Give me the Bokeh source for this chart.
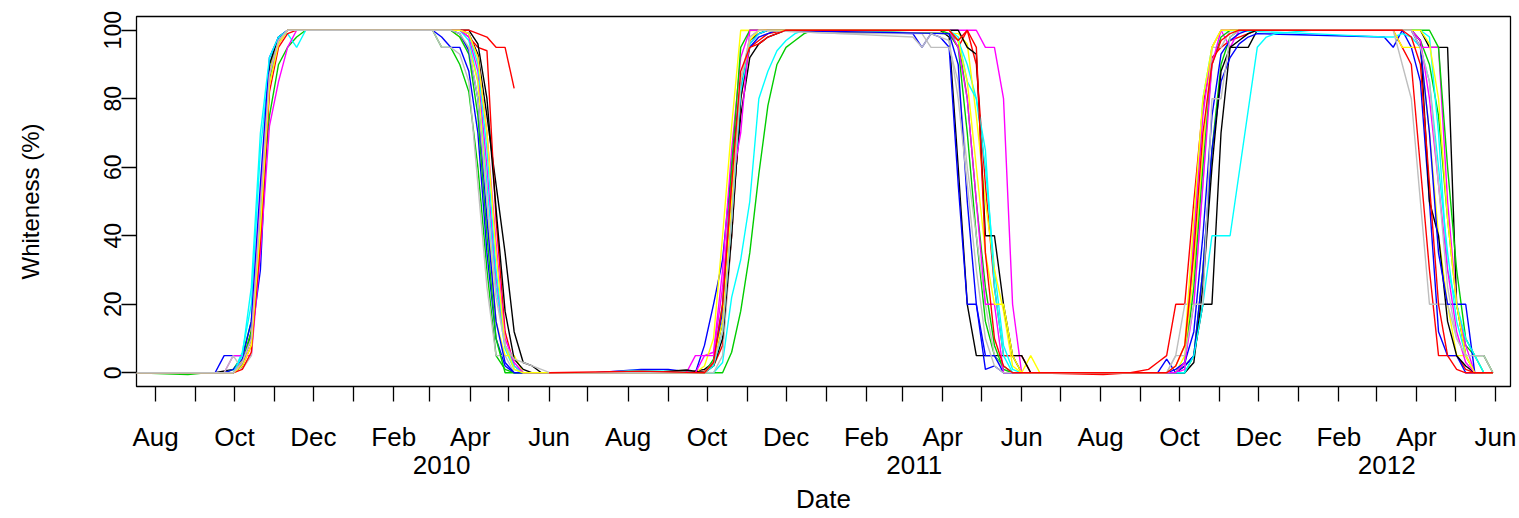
import pandas as pd
from bokeh.plotting import figure
from bokeh.models import Range1d, FixedTicker, LinearAxis
from bokeh.embed import file_html
from bokeh.resources import INLINE

# ---------------- data (date, whiteness %) ----------------
s01_black = [("2009-07-17", 0), ("2009-09-16", 0), ("2009-09-30", 1), ("2009-10-07", 3), ("2009-10-14", 10),
             ("2009-10-21", 45), ("2009-10-28", 88), ("2009-11-04", 97), ("2009-11-11", 100), ("2010-01-13", 100),
             ("2010-03-24", 100), ("2010-03-31", 99), ("2010-04-07", 93), ("2010-04-14", 75), ("2010-04-21", 55),
             ("2010-04-28", 35), ("2010-05-05", 12), ("2010-05-12", 3), ("2010-05-19", 2), ("2010-05-26", 0),
             ("2010-08-11", 0), ("2010-09-15", 0), ("2010-09-22", 0.5), ("2010-09-29", 1), ("2010-10-06", 3),
             ("2010-10-13", 15), ("2010-10-20", 45), ("2010-10-27", 75), ("2010-11-03", 92), ("2010-11-10", 96),
             ("2010-11-17", 98), ("2010-11-24", 99), ("2010-12-01", 100), ("2011-03-30", 100), ("2011-04-06", 98),
             ("2011-04-13", 60), ("2011-04-20", 20), ("2011-04-27", 5), ("2011-05-04", 5), ("2011-05-11", 5),
             ("2011-05-18", 5), ("2011-05-25", 5), ("2011-06-01", 0), ("2011-09-28", 0), ("2011-10-05", 2),
             ("2011-10-12", 5), ("2011-10-19", 20), ("2011-10-26", 20), ("2011-11-02", 70), ("2011-11-09", 95),
             ("2011-11-16", 95), ("2011-11-23", 95), ("2011-11-30", 100), ("2012-04-04", 100), ("2012-04-11", 95),
             ("2012-04-18", 95), ("2012-04-25", 95), ("2012-05-02", 20), ("2012-05-09", 5), ("2012-05-16", 0),
             ("2012-05-30", 0)]

s02_red = [("2009-07-17", 0), ("2009-09-30", 0), ("2009-10-07", 2), ("2009-10-14", 8), ("2009-10-21", 40),
           ("2009-10-28", 85), ("2009-11-04", 96), ("2009-11-11", 100), ("2010-03-24", 100), ("2010-03-31", 98),
           ("2010-04-07", 95), ("2010-04-14", 94), ("2010-04-21", 45), ("2010-04-28", 12), ("2010-05-05", 2),
           ("2010-05-12", 0), ("2010-08-11", 0), ("2010-09-22", 0), ("2010-09-29", 0.5), ("2010-10-06", 2),
           ("2010-10-13", 8), ("2010-10-20", 40), ("2010-10-27", 80), ("2010-11-03", 95), ("2010-11-10", 97),
           ("2010-11-17", 99), ("2010-12-01", 100), ("2011-04-06", 99), ("2011-04-13", 95), ("2011-04-20", 100),
           ("2011-04-27", 90), ("2011-05-04", 55), ("2011-05-11", 25), ("2011-05-18", 5), ("2011-05-25", 5),
           ("2011-06-01", 5), ("2011-06-08", 0), ("2011-08-03", -0.5), ("2011-08-24", 0), ("2011-09-07", 1),
           ("2011-09-14", 3), ("2011-09-21", 5), ("2011-09-28", 20), ("2011-10-05", 20), ("2011-10-12", 50),
           ("2011-10-19", 78), ("2011-10-26", 92), ("2011-11-02", 95), ("2011-11-09", 97), ("2011-11-16", 98),
           ("2011-11-23", 99), ("2011-11-30", 100), ("2012-03-14", 100), ("2012-03-21", 95), ("2012-03-28", 90),
           ("2012-04-04", 60), ("2012-04-11", 30), ("2012-04-18", 5), ("2012-04-25", 5), ("2012-05-02", 5),
           ("2012-05-09", 1), ("2012-05-16", 0)]

s03_green = [("2009-07-17", 0), ("2009-08-26", -0.5), ("2009-09-09", 0), ("2009-09-23", 0), ("2009-09-30", 1),
             ("2009-10-07", 5), ("2009-10-14", 15), ("2009-10-21", 45), ("2009-10-28", 75), ("2009-11-04", 90),
             ("2009-11-11", 95), ("2009-11-18", 98), ("2009-11-25", 100), ("2010-03-03", 100), ("2010-03-10", 95),
             ("2010-03-17", 95), ("2010-03-24", 90), ("2010-03-31", 82), ("2010-04-07", 60), ("2010-04-14", 30),
             ("2010-04-21", 5), ("2010-04-28", 1), ("2010-05-05", 0), ("2010-10-13", 0), ("2010-10-20", 6),
             ("2010-10-27", 18), ("2010-11-03", 35), ("2010-11-10", 58), ("2010-11-17", 78), ("2010-11-24", 90),
             ("2010-12-01", 95), ("2010-12-08", 97), ("2010-12-15", 99), ("2010-12-22", 100), ("2011-04-06", 99),
             ("2011-04-13", 95), ("2011-04-20", 70), ("2011-04-27", 40), ("2011-05-04", 15), ("2011-05-11", 5),
             ("2011-05-18", 2), ("2011-05-25", 0), ("2011-10-05", 0), ("2011-10-12", 5), ("2011-10-19", 30),
             ("2011-10-26", 65), ("2011-11-02", 90), ("2011-11-09", 98), ("2011-11-16", 100), ("2012-03-28", 100),
             ("2012-04-04", 97), ("2012-04-11", 90), ("2012-04-18", 75), ("2012-04-25", 45), ("2012-05-02", 20),
             ("2012-05-09", 8), ("2012-05-16", 5), ("2012-05-23", 0), ("2012-05-30", 0)]

s04_blue = [("2009-07-17", 0), ("2009-09-16", 0), ("2009-09-23", 5), ("2009-09-30", 5), ("2009-10-07", 5),
            ("2009-10-14", 10), ("2009-10-21", 30), ("2009-10-28", 85), ("2009-11-04", 97), ("2009-11-11", 100),
            ("2010-03-03", 100), ("2010-03-10", 98), ("2010-03-17", 95), ("2010-03-24", 95), ("2010-03-31", 88),
            ("2010-04-07", 70), ("2010-04-14", 35), ("2010-04-21", 10), ("2010-04-28", 2), ("2010-05-05", 0),
            ("2010-07-07", 0), ("2010-08-11", 1), ("2010-09-01", 1), ("2010-09-22", 0), ("2010-09-29", 8),
            ("2010-10-06", 20), ("2010-10-13", 33), ("2010-10-20", 60), ("2010-10-27", 85), ("2010-11-03", 95),
            ("2010-11-10", 98), ("2010-11-17", 99), ("2010-11-24", 100), ("2011-03-09", 99), ("2011-03-16", 95),
            ("2011-03-23", 99), ("2011-03-30", 98), ("2011-04-06", 95), ("2011-04-13", 55), ("2011-04-20", 20),
            ("2011-04-27", 20), ("2011-05-04", 1), ("2011-05-11", 2), ("2011-05-18", 0), ("2011-09-14", 0),
            ("2011-09-21", 4), ("2011-09-28", 0), ("2011-10-05", 2), ("2011-10-12", 5), ("2011-10-19", 30),
            ("2011-10-26", 65), ("2011-11-02", 85), ("2011-11-09", 92), ("2011-11-16", 96), ("2011-11-23", 98),
            ("2011-11-30", 99), ("2012-03-07", 98), ("2012-03-14", 95), ("2012-03-21", 100), ("2012-03-28", 95),
            ("2012-04-04", 85), ("2012-04-11", 50), ("2012-04-18", 12), ("2012-04-25", 5), ("2012-05-02", 5),
            ("2012-05-09", 0), ("2012-05-16", 0)]

s05_cyan = [("2009-07-17", 0), ("2009-09-30", 0), ("2009-10-07", 6), ("2009-10-14", 20), ("2009-10-21", 65),
            ("2009-10-28", 90), ("2009-11-04", 98), ("2009-11-11", 99), ("2009-11-18", 95), ("2009-11-25", 100),
            ("2010-03-24", 100), ("2010-03-31", 97), ("2010-04-07", 85), ("2010-04-14", 55), ("2010-04-21", 25),
            ("2010-04-28", 7), ("2010-05-05", 1), ("2010-05-12", 0), ("2010-07-14", 0), ("2010-08-04", 0.7),
            ("2010-09-01", 0.5), ("2010-10-06", 0), ("2010-10-13", 3), ("2010-10-20", 22), ("2010-10-27", 33),
            ("2010-11-03", 50), ("2010-11-10", 80), ("2010-11-17", 88), ("2010-11-24", 94), ("2010-12-01", 97),
            ("2010-12-08", 99), ("2010-12-15", 100), ("2011-04-06", 99), ("2011-04-13", 97), ("2011-04-20", 90),
            ("2011-04-27", 80), ("2011-05-04", 60), ("2011-05-11", 30), ("2011-05-18", 8), ("2011-05-25", 1),
            ("2011-06-01", 0), ("2011-10-05", 0), ("2011-10-12", 40), ("2011-10-19", 80), ("2011-10-26", 95),
            ("2011-11-02", 100), ("2012-01-11", 99), ("2012-02-08", 98.5), ("2012-03-07", 98), ("2012-03-14", 98),
            ("2012-03-21", 99), ("2012-03-28", 98), ("2012-04-04", 95), ("2012-04-11", 85), ("2012-04-18", 60),
            ("2012-04-25", 35), ("2012-05-02", 15), ("2012-05-09", 5), ("2012-05-16", 0), ("2012-05-30", 0)]

s06_magenta = [("2009-07-17", 0), ("2009-09-23", 0), ("2009-09-30", 5), ("2009-10-07", 5), ("2009-10-14", 5),
               ("2009-10-21", 35), ("2009-10-28", 72), ("2009-11-04", 85), ("2009-11-11", 95), ("2009-11-18", 100),
               ("2010-03-24", 100), ("2010-03-31", 98), ("2010-04-07", 88), ("2010-04-14", 60), ("2010-04-21", 28),
               ("2010-04-28", 8), ("2010-05-05", 2), ("2010-05-12", 0), ("2010-09-15", 0), ("2010-09-22", 5),
               ("2010-09-29", 5), ("2010-10-06", 6), ("2010-10-13", 30), ("2010-10-20", 65), ("2010-10-27", 92),
               ("2010-11-03", 100), ("2011-04-27", 100), ("2011-05-04", 95), ("2011-05-11", 95), ("2011-05-18", 80),
               ("2011-05-25", 20), ("2011-06-01", 0), ("2011-09-28", 0), ("2011-10-05", 1), ("2011-10-12", 40),
               ("2011-10-19", 75), ("2011-10-26", 95), ("2011-11-02", 100), ("2011-11-09", 95), ("2011-11-16", 100),
               ("2012-03-28", 100), ("2012-04-04", 95), ("2012-04-11", 95), ("2012-04-18", 95), ("2012-04-25", 50),
               ("2012-05-02", 20), ("2012-05-09", 8), ("2012-05-16", 0), ("2012-05-30", 0)]

s07_yellow = [("2009-07-17", 0), ("2009-09-30", 0), ("2009-10-07", 4), ("2009-10-14", 12), ("2009-10-21", 50),
              ("2009-10-28", 88), ("2009-11-04", 97), ("2009-11-11", 100), ("2010-03-17", 100), ("2010-03-24", 98),
              ("2010-03-31", 95), ("2010-04-07", 85), ("2010-04-14", 50), ("2010-04-21", 15), ("2010-04-28", 5),
              ("2010-05-05", 5), ("2010-05-12", 0), ("2010-09-22", 0), ("2010-09-29", 2), ("2010-10-06", 10),
              ("2010-10-13", 40), ("2010-10-20", 72), ("2010-10-27", 100), ("2011-04-13", 99), ("2011-04-20", 96),
              ("2011-04-27", 75), ("2011-05-04", 50), ("2011-05-11", 30), ("2011-05-18", 18), ("2011-05-25", 2),
              ("2011-06-01", 0), ("2011-06-08", 5), ("2011-06-15", 0), ("2011-09-28", 0), ("2011-10-05", 5),
              ("2011-10-12", 30), ("2011-10-19", 65), ("2011-10-26", 95), ("2011-11-02", 100), ("2012-03-14", 100),
              ("2012-03-21", 95), ("2012-03-28", 95), ("2012-04-04", 95), ("2012-04-11", 70), ("2012-04-18", 40),
              ("2012-04-25", 20), ("2012-05-02", 5), ("2012-05-09", 5), ("2012-05-16", 0), ("2012-05-30", 0)]

s08_gray = [("2009-07-17", 0), ("2009-09-23", 0), ("2009-09-30", 5), ("2009-10-07", 1), ("2009-10-14", 5),
            ("2009-10-21", 45), ("2009-10-28", 85), ("2009-11-04", 96), ("2009-11-11", 100), ("2010-03-03", 100),
            ("2010-03-10", 95), ("2010-03-17", 95), ("2010-03-24", 93), ("2010-03-31", 85), ("2010-04-07", 55),
            ("2010-04-14", 25), ("2010-04-21", 5), ("2010-04-28", 5), ("2010-05-05", 0), ("2010-10-06", 0),
            ("2010-10-13", 5), ("2010-10-20", 40), ("2010-10-27", 85), ("2010-11-03", 98), ("2010-11-10", 100),
            ("2011-01-12", 99), ("2011-03-16", 99), ("2011-03-23", 95), ("2011-03-30", 95), ("2011-04-06", 95),
            ("2011-04-13", 85), ("2011-04-20", 60), ("2011-04-27", 40), ("2011-05-04", 20), ("2011-05-11", 5),
            ("2011-05-18", 1), ("2011-05-25", 0), ("2011-09-21", 0), ("2011-09-28", 5), ("2011-10-05", 20),
            ("2011-10-12", 20), ("2011-10-19", 55), ("2011-10-26", 95), ("2011-11-02", 95), ("2011-11-09", 100),
            ("2012-03-14", 100), ("2012-03-21", 90), ("2012-03-28", 80), ("2012-04-04", 50), ("2012-04-11", 20),
            ("2012-04-18", 20), ("2012-04-25", 20), ("2012-05-02", 10), ("2012-05-09", 5), ("2012-05-16", 5),
            ("2012-05-23", 5), ("2012-05-30", 0)]

s09_black = [("2009-07-17", 0), ("2009-09-30", 0), ("2009-10-07", 2), ("2009-10-14", 12), ("2009-10-21", 50),
             ("2009-10-28", 90), ("2009-11-04", 98), ("2009-11-11", 100), ("2010-03-31", 100), ("2010-04-07", 96),
             ("2010-04-14", 80), ("2010-04-21", 48), ("2010-04-28", 18), ("2010-05-05", 4), ("2010-05-12", 1),
             ("2010-05-19", 0), ("2010-08-18", 0), ("2010-09-15", 0.8), ("2010-09-29", 0), ("2010-10-06", 2),
             ("2010-10-13", 10), ("2010-10-20", 40), ("2010-10-27", 80), ("2010-11-03", 97), ("2010-11-10", 99),
             ("2010-11-17", 100), ("2011-04-13", 100), ("2011-04-20", 95), ("2011-04-27", 93), ("2011-05-04", 40),
             ("2011-05-11", 40), ("2011-05-18", 20), ("2011-05-25", 5), ("2011-06-01", 5), ("2011-06-08", 0),
             ("2011-10-05", 0), ("2011-10-12", 3), ("2011-10-19", 25), ("2011-10-26", 60), ("2011-11-02", 88),
             ("2011-11-09", 95), ("2011-11-16", 97), ("2011-11-23", 99), ("2011-11-30", 100), ("2012-03-28", 100),
             ("2012-04-04", 97), ("2012-04-11", 50), ("2012-04-18", 40), ("2012-04-25", 15), ("2012-05-02", 5),
             ("2012-05-09", 2), ("2012-05-16", 0), ("2012-05-30", 0)]

s10_red = [("2009-07-17", 0), ("2009-09-30", 0), ("2009-10-07", 1), ("2009-10-14", 6), ("2009-10-21", 38),
           ("2009-10-28", 82), ("2009-11-04", 95), ("2009-11-11", 99), ("2009-11-18", 100), ("2010-03-31", 100),
           ("2010-04-07", 99), ("2010-04-14", 98), ("2010-04-21", 95), ("2010-04-28", 95), ("2010-05-05", 83)]

s11_green = [("2009-07-17", 0), ("2009-09-30", 0), ("2009-10-07", 3), ("2009-10-14", 12), ("2009-10-21", 48),
             ("2009-10-28", 86), ("2009-11-04", 97), ("2009-11-11", 100), ("2010-03-17", 100), ("2010-03-24", 98),
             ("2010-03-31", 93), ("2010-04-07", 75), ("2010-04-14", 40), ("2010-04-21", 10), ("2010-04-28", 0),
             ("2010-09-29", 0), ("2010-10-06", 4), ("2010-10-13", 20), ("2010-10-20", 60), ("2010-10-27", 95),
             ("2010-11-03", 100), ("2011-03-30", 100), ("2011-04-06", 99), ("2011-04-13", 97), ("2011-04-20", 80),
             ("2011-04-27", 50), ("2011-05-04", 25), ("2011-05-11", 8), ("2011-05-18", 1), ("2011-05-25", 0),
             ("2011-09-28", 0), ("2011-10-05", 3), ("2011-10-12", 25), ("2011-10-19", 60), ("2011-10-26", 90),
             ("2011-11-02", 98), ("2011-11-09", 100), ("2012-04-11", 100), ("2012-04-18", 95), ("2012-04-25", 60),
             ("2012-05-02", 30), ("2012-05-09", 10), ("2012-05-16", 5), ("2012-05-23", 5), ("2012-05-30", 0)]

s12_blue = [("2009-07-17", 0), ("2009-09-23", 0), ("2009-09-30", 1), ("2009-10-07", 4), ("2009-10-14", 15),
            ("2009-10-21", 55), ("2009-10-28", 92), ("2009-11-04", 98), ("2009-11-11", 100), ("2010-03-17", 100),
            ("2010-03-24", 99), ("2010-03-31", 94), ("2010-04-07", 80), ("2010-04-14", 45), ("2010-04-21", 15),
            ("2010-04-28", 3), ("2010-05-05", 0), ("2010-09-29", 0), ("2010-10-06", 3), ("2010-10-13", 18),
            ("2010-10-20", 50), ("2010-10-27", 83), ("2010-11-03", 96), ("2010-11-10", 99), ("2010-11-17", 100),
            ("2011-04-06", 99), ("2011-04-13", 90), ("2011-04-20", 50), ("2011-04-27", 20), ("2011-05-04", 5),
            ("2011-05-11", 5), ("2011-05-18", 0), ("2011-09-21", 0), ("2011-09-28", 1), ("2011-10-05", 3),
            ("2011-10-12", 12), ("2011-10-19", 40), ("2011-10-26", 75), ("2011-11-02", 93), ("2011-11-09", 97),
            ("2011-11-16", 99), ("2011-11-23", 100), ("2012-03-28", 100), ("2012-04-04", 95), ("2012-04-11", 70),
            ("2012-04-18", 35), ("2012-04-25", 20), ("2012-05-02", 20), ("2012-05-09", 20), ("2012-05-16", 0),
            ("2012-05-30", 0)]

s13_cyan = [("2009-07-17", 0), ("2009-09-30", 0), ("2009-10-07", 5), ("2009-10-14", 25), ("2009-10-21", 70),
            ("2009-10-28", 92), ("2009-11-04", 98), ("2009-11-11", 100), ("2010-03-24", 100), ("2010-03-31", 99),
            ("2010-04-07", 90), ("2010-04-14", 65), ("2010-04-21", 30), ("2010-04-28", 8), ("2010-05-05", 2),
            ("2010-05-12", 0), ("2010-09-29", 0), ("2010-10-06", 2), ("2010-10-13", 12), ("2010-10-20", 45),
            ("2010-10-27", 82), ("2010-11-03", 96), ("2010-11-10", 99), ("2010-11-17", 100), ("2011-04-06", 100),
            ("2011-04-13", 98), ("2011-04-20", 85), ("2011-04-27", 80), ("2011-05-04", 65), ("2011-05-11", 25),
            ("2011-05-18", 5), ("2011-05-25", 0), ("2011-10-05", 0), ("2011-10-12", 5), ("2011-10-19", 20),
            ("2011-10-26", 40), ("2011-11-02", 40), ("2011-11-09", 40), ("2011-11-30", 95), ("2011-12-07", 98),
            ("2011-12-14", 99), ("2012-01-11", 100), ("2012-04-04", 100), ("2012-04-11", 98), ("2012-04-18", 70),
            ("2012-04-25", 30), ("2012-05-02", 20), ("2012-05-09", 10), ("2012-05-16", 5), ("2012-05-23", 0),
            ("2012-05-30", 0)]

s14_magenta = [("2009-07-17", 0), ("2009-09-30", 0), ("2009-10-07", 3), ("2009-10-14", 10), ("2009-10-21", 50),
               ("2009-10-28", 87), ("2009-11-04", 97), ("2009-11-11", 100), ("2010-03-24", 100), ("2010-03-31", 99),
               ("2010-04-07", 92), ("2010-04-14", 70), ("2010-04-21", 38), ("2010-04-28", 10), ("2010-05-05", 3),
               ("2010-05-12", 0), ("2010-09-22", 0), ("2010-09-29", 5), ("2010-10-06", 5), ("2010-10-13", 25),
               ("2010-10-20", 55), ("2010-10-27", 70), ("2010-11-03", 100), ("2011-04-06", 100), ("2011-04-13", 95),
               ("2011-04-20", 80), ("2011-04-27", 50), ("2011-05-04", 20), ("2011-05-11", 20), ("2011-05-18", 0),
               ("2011-09-28", 0), ("2011-10-05", 3), ("2011-10-12", 20), ("2011-10-19", 55), ("2011-10-26", 90),
               ("2011-11-02", 100), ("2012-03-28", 100), ("2012-04-04", 97), ("2012-04-11", 80), ("2012-04-18", 55),
               ("2012-04-25", 30), ("2012-05-02", 12), ("2012-05-09", 3), ("2012-05-16", 0), ("2012-05-30", 0)]

s15_yellow = [("2009-07-17", 0), ("2009-09-30", 0), ("2009-10-07", 2), ("2009-10-14", 8), ("2009-10-21", 42),
              ("2009-10-28", 84), ("2009-11-04", 96), ("2009-11-11", 100), ("2010-03-24", 100), ("2010-03-31", 99),
              ("2010-04-07", 92), ("2010-04-14", 70), ("2010-04-21", 35), ("2010-04-28", 8), ("2010-05-05", 1),
              ("2010-05-12", 0), ("2010-09-29", 0), ("2010-10-06", 3), ("2010-10-13", 15), ("2010-10-20", 50),
              ("2010-10-27", 85), ("2010-11-03", 97), ("2010-11-10", 100), ("2011-04-06", 100), ("2011-04-13", 97),
              ("2011-04-20", 85), ("2011-04-27", 60), ("2011-05-04", 35), ("2011-05-11", 20), ("2011-05-18", 20),
              ("2011-05-25", 5), ("2011-06-01", 0), ("2011-09-21", 0), ("2011-09-28", 2), ("2011-10-05", 8),
              ("2011-10-12", 45), ("2011-10-19", 80), ("2011-10-26", 95), ("2011-11-02", 100), ("2012-04-04", 100),
              ("2012-04-11", 96), ("2012-04-18", 80), ("2012-04-25", 45), ("2012-05-02", 20), ("2012-05-09", 5),
              ("2012-05-16", 0), ("2012-05-30", 0)]

s16_gray = [("2009-07-17", 0), ("2009-09-30", 0), ("2009-10-07", 3), ("2009-10-14", 10), ("2009-10-21", 48),
            ("2009-10-28", 87), ("2009-11-04", 97), ("2009-11-11", 100), ("2010-03-17", 100), ("2010-03-24", 99),
            ("2010-03-31", 95), ("2010-04-07", 80), ("2010-04-14", 50), ("2010-04-21", 22), ("2010-04-28", 8),
            ("2010-05-05", 4), ("2010-05-12", 3), ("2010-05-19", 2), ("2010-05-26", 1), ("2010-06-02", 0),
            ("2010-09-29", 0), ("2010-10-06", 3), ("2010-10-13", 12), ("2010-10-20", 45), ("2010-10-27", 85),
            ("2010-11-03", 98), ("2010-11-10", 100), ("2011-01-12", 99), ("2011-03-09", 98), ("2011-03-16", 95),
            ("2011-03-23", 99), ("2011-03-30", 98), ("2011-04-06", 97), ("2011-04-13", 80), ("2011-04-20", 55),
            ("2011-04-27", 30), ("2011-05-04", 10), ("2011-05-11", 2), ("2011-05-18", 0), ("2011-09-21", 0),
            ("2011-09-28", 5), ("2011-10-05", 5), ("2011-10-12", 20), ("2011-10-19", 20), ("2011-10-26", 80),
            ("2011-11-02", 80), ("2011-11-09", 98), ("2011-11-16", 100), ("2012-03-28", 100), ("2012-04-04", 95),
            ("2012-04-11", 85), ("2012-04-18", 55), ("2012-04-25", 25), ("2012-05-02", 10), ("2012-05-09", 5),
            ("2012-05-16", 5), ("2012-05-23", 5), ("2012-05-30", 0)]

s17_red = [("2010-06-01", 0), ("2010-08-11", 0.5), ("2010-09-29", 0), ("2010-10-06", 3), ("2010-10-13", 20),
           ("2010-10-20", 55), ("2010-10-27", 88), ("2010-11-03", 95), ("2010-11-10", 96), ("2010-11-17", 98),
           ("2010-11-24", 99), ("2010-12-01", 100), ("2011-04-06", 100), ("2011-04-13", 97), ("2011-04-20", 100),
           ("2011-04-27", 95), ("2011-05-04", 35), ("2011-05-11", 10), ("2011-05-18", 2), ("2011-05-25", 0),
           ("2011-09-21", 0), ("2011-09-28", 2), ("2011-10-05", 8), ("2011-10-12", 35), ("2011-10-19", 70),
           ("2011-10-26", 90), ("2011-11-02", 97), ("2011-11-09", 99), ("2011-11-16", 100), ("2012-03-21", 100),
           ("2012-03-28", 98), ("2012-04-04", 90), ("2012-04-11", 55), ("2012-04-18", 20), ("2012-04-25", 5),
           ("2012-05-02", 1), ("2012-05-09", 0), ("2012-05-30", 0)]

series = [s01_black, s02_red, s03_green, s04_blue, s05_cyan, s06_magenta, s07_yellow, s08_gray,
          s09_black, s10_red, s11_green, s12_blue, s13_cyan, s14_magenta, s15_yellow, s16_gray, s17_red]
series_colors = ["#000000", "#FF0000", "#00CD00", "#0000FF", "#00FFFF", "#FF00FF", "#FFFF00", "#BEBEBE",
                 "#000000", "#FF0000", "#00CD00", "#0000FF", "#00FFFF", "#FF00FF", "#FFFF00", "#BEBEBE", "#FF0000"]

y_ticks = [0, 20, 40, 60, 80, 100]
month_labels = {8: "Aug", 10: "Oct", 12: "Dec", 2: "Feb", 4: "Apr", 6: "Jun"}
year_label_dates = ["2010-03-10", "2011-03-10", "2012-03-09"]
year_labels = ["2010", "2011", "2012"]

# ---------------- plot ----------------
origin = pd.Timestamp("2009-08-01")


def days(d):
    return int((pd.Timestamp(d) - origin).days)


FONT = "Liberation Sans"

p = figure(width=1519, height=518, output_backend="svg", toolbar_location=None,
           x_range=Range1d(-14.7, 1046.6), y_range=Range1d(-4, 104),
           min_border_left=136, min_border_right=9, min_border_top=16, min_border_bottom=132)
p.xgrid.visible = False
p.ygrid.visible = False
p.outline_line_color = "black"
p.outline_line_alpha = 1.0
p.outline_line_width = 1.3
p.background_fill_color = "white"
p.border_fill_color = "white"

for s, c in zip(series, series_colors):
    xs = [days(d) for d, v in s]
    ys = [v for d, v in s]
    p.line(xs, ys, line_color=c, line_width=1.4)

# month axis
month_starts = pd.date_range("2009-08-01", "2012-06-01", freq="MS")
month_ticks = [days(m) for m in month_starts]
overrides = {days(m): month_labels.get(m.month, "") for m in month_starts}
xa = p.xaxis[0]
xa.ticker = FixedTicker(ticks=month_ticks)
xa.major_label_overrides = overrides
xa.axis_line_color = None
xa.major_tick_in = 0
xa.major_tick_out = 15
xa.major_tick_line_color = "black"
xa.major_tick_line_width = 1.3
xa.minor_tick_line_color = None
xa.major_label_standoff = 20
xa.major_label_text_font = FONT
xa.major_label_text_font_size = "26px"
xa.major_label_text_color = "black"

# year axis
ya2 = LinearAxis(ticker=FixedTicker(ticks=[days(d) for d in year_label_dates]),
                 major_label_overrides={days(d): t for d, t in zip(year_label_dates, year_labels)},
                 axis_line_color=None, major_tick_line_color=None, minor_tick_line_color=None,
                 major_tick_in=0, major_tick_out=0, major_label_standoff=1,
                 major_label_text_font=FONT, major_label_text_font_size="26px",
                 major_label_text_color="black",
                 axis_label="Date", axis_label_standoff=7, axis_label_text_font=FONT,
                 axis_label_text_font_size="26px", axis_label_text_font_style="normal",
                 axis_label_text_color="black")
p.add_layout(ya2, "below")

# y axis
yax = p.yaxis[0]
yax.ticker = FixedTicker(ticks=y_ticks)
yax.axis_line_color = None
yax.major_tick_in = 0
yax.major_tick_out = 15
yax.major_tick_line_color = "black"
yax.major_tick_line_width = 1.3
yax.minor_tick_line_color = None
yax.major_label_orientation = "vertical"
yax.major_label_standoff = 0
yax.major_label_text_font = FONT
yax.major_label_text_font_size = "23px"
yax.major_label_text_color = "black"
yax.axis_label = "Whiteness (%)"
yax.axis_label_standoff = 58
yax.axis_label_text_font = FONT
yax.axis_label_text_font_size = "24px"
yax.axis_label_text_font_style = "normal"
yax.axis_label_text_color = "black"

open("out.html", "w").write(file_html(p, INLINE))
